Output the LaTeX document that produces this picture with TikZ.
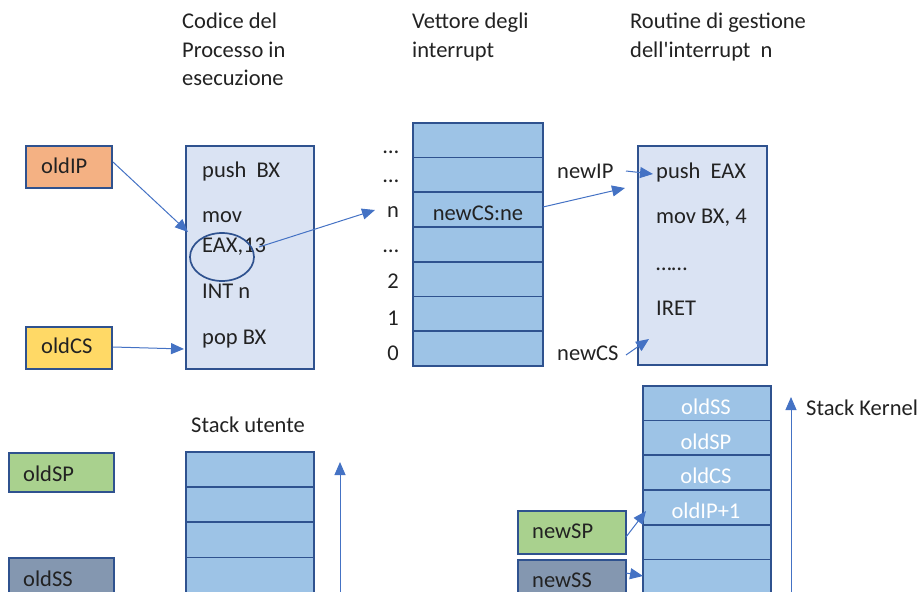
\documentclass[tikz,border=0pt]{standalone}
\usepackage{fontspec}
\setmainfont{Carlito}
\usetikzlibrary{arrows.meta,shapes.geometric}
\definecolor{edge}{HTML}{2F528F}
\definecolor{arr}{HTML}{4472C4}
\definecolor{codefill}{HTML}{DAE3F3}
\definecolor{cellfill}{HTML}{9DC3E6}
\definecolor{ipfill}{HTML}{F4B183}
\definecolor{csfill}{HTML}{FFD966}
\definecolor{spfill}{HTML}{A9D18E}
\definecolor{ssfill}{HTML}{8497B0}
\definecolor{ink}{HTML}{222222}
\begin{document}
\begin{tikzpicture}[x=1pt,y=-1pt,
  txt/.style={inner sep=0pt, anchor=base west, text=ink, font=\fontsize{22.5}{26}\selectfont},
  ctxt/.style={txt, anchor=base},
  wtxt/.style={ctxt, text=white},
  box/.style={draw=edge, line width=1.7pt, inner sep=0pt, anchor=north west},
  regbox/.style={box, minimum width=86pt, minimum height=42pt},
  cell/.style={box, fill=cellfill, minimum width=128pt, minimum height=34.7pt},
  arrow/.style={draw=arr, line width=1pt, -{Triangle[length=13pt,width=11pt]}}]
\clip (0,0) rectangle (922,592);

% column headings
\node[txt] (h1a) at (182,28) {Codice del};
\node[txt] (h1b) at (182,57) {Processo in};
\node[txt] (h1c) at (182,85) {esecuzione};
\node[txt] (h2a) at (412,28) {Vettore degli};
\node[txt] (h2b) at (412,57) {interrupt};
\node[txt] (h3a) at (630,28) {Routine di gestione};
\node[txt] (h3b) at (630,57) {dell\textquotesingle interrupt\ \ n};

% saved registers of the interrupted process
\node[regbox, fill=ipfill] (oldIP) at (25,145) {};
\node[txt] at (41,173) {oldIP};
\node[regbox, fill=csfill] (oldCS) at (25,326) {};
\node[txt] at (41,353) {oldCS};

% code of the running process
\node[box, fill=codefill, minimum width=128pt, minimum height=223pt] (code) at (185,145) {};
\node[txt] at (202,177) {push\ \ BX};
\node[txt] at (202,222) {mov};
\node[txt] at (202,252) {EAX,13};
\node[txt] at (202,298) {INT n};
\node[txt] at (202,344) {pop BX};
\node[draw=edge, line width=1.7pt, ellipse, minimum width=64pt, minimum height=48pt, inner sep=0pt] (eax) at (222,257) {};

% interrupt vector table
\foreach \i in {1,...,7}
  \node[cell, minimum width=130pt] (v\i) at (412,{122+(\i-1)*34.7}) {};
\node[ctxt] at (391,153) {…};
\node[ctxt] at (391,182) {…};
\node[ctxt] (idxn) at (393,217) {n};
\node[ctxt] at (391,252) {…};
\node[ctxt] at (393,288) {2};
\node[ctxt] at (393,325) {1};
\node[ctxt] at (393,360) {0};
\node[ctxt] at (478,220) {newCS:ne};

% interrupt service routine
\node[box, fill=codefill, minimum width=129pt, minimum height=219pt] (isr) at (637,145) {};
\node[txt] at (656,178) {push\ \ EAX};
\node[txt] at (656,223) {mov BX, 4};
\node[txt] at (656,270) {……};
\node[txt] at (656,315) {IRET};
\node[txt] (newIP) at (557,178) {newIP};
\node[txt] (newCS) at (557,360) {newCS};

% user stack
\node[ctxt] at (248,432) {Stack utente};
\node[box, fill=spfill, minimum width=105pt, minimum height=39pt] (oldSP) at (8,452) {};
\node[txt] at (23,481) {oldSP};
\node[box, fill=ssfill, minimum width=105pt, minimum height=45pt] (oldSS) at (8,557) {};
\node[txt] at (23,586) {oldSS};
\foreach \i in {1,...,4}
  \node[cell, minimum height=35.2pt] (u\i) at (185,{451+(\i-1)*35.2}) {};

% kernel stack
\foreach \i in {1,...,6}
  \node[cell] (k\i) at (642,{385+(\i-1)*34.7}) {};
\node[wtxt] at (706,414) {oldSS};
\node[wtxt] at (706,449) {oldSP};
\node[wtxt] at (706,483) {oldCS};
\node[wtxt] at (706,518) {oldIP+1};
\node[txt] at (806,415) {Stack Kernel};
\node[box, fill=spfill, minimum width=108pt, minimum height=43pt] (newSP) at (517,510) {};
\node[txt] at (532,538) {newSP};
\node[box, fill=ssfill, minimum width=108pt, minimum height=45pt] (newSS) at (517,559) {};
\node[txt] at (532,587) {newSS};

% connector end points
\coordinate (ipFrom) at (113,162);
\coordinate (ipTo) at (188,232);
\coordinate (csFrom) at (113,347);
\coordinate (csTo) at (184,349);
\coordinate (eaxFrom) at (259,247);
\coordinate (vecTo) at (375,210);
\coordinate (vecFrom) at (543,207);
\coordinate (isrTo) at (625,188);
\coordinate (nipFrom) at (626,171);
\coordinate (nipTo) at (653,174);
\coordinate (ncsFrom) at (626,355);
\coordinate (ncsTo) at (649,339);
\coordinate (nspFrom) at (626,537);
\coordinate (nspTo) at (646,511);
\coordinate (nssFrom) at (626,573);
\coordinate (nssTo) at (643,576);
\coordinate (uBase) at (340,592);
\coordinate (uTop) at (340,462);
\coordinate (kBase) at (791,592);
\coordinate (kTop) at (791,397);

% connectors
\draw[arrow] (ipFrom) -- (ipTo);
\draw[arrow] (csFrom) -- (csTo);
\draw[arrow] (eaxFrom) -- (vecTo);
\draw[arrow] (vecFrom) -- (isrTo);
\draw[arrow] (nipFrom) -- (nipTo);
\draw[arrow] (ncsFrom) -- (ncsTo);
\draw[arrow] (nspFrom) -- (nspTo);
\draw[arrow] (nssFrom) -- (nssTo);
\draw[arrow] (uBase) -- (uTop);
\draw[arrow] (kBase) -- (kTop);
\end{tikzpicture}
\end{document}
